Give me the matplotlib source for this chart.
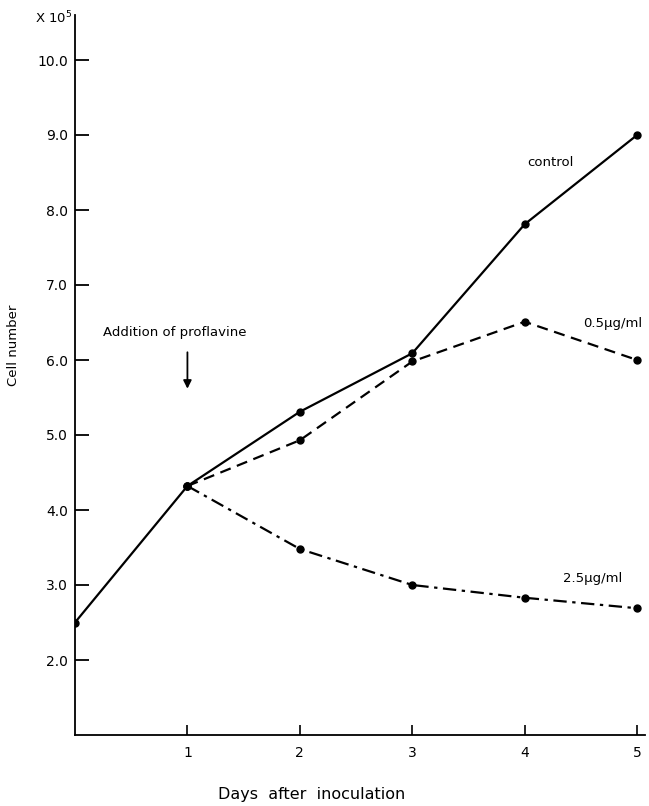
import matplotlib
matplotlib.use("Agg")
import matplotlib.pyplot as plt

days_control = [0, 1, 2, 3, 4, 5]
control = [2.5, 4.32, 5.31, 6.09, 7.81, 9.0]
days_treat = [1, 2, 3, 4, 5]
dose_05 = [4.32, 4.93, 5.98, 6.51, 6.0]
dose_25 = [4.32, 3.48, 3.0, 2.83, 2.69]

yticks = [2, 3, 4, 5, 6, 7, 8, 9, 10]
ytick_labels = ["2.0", "3.0", "4.0", "5.0", "6.0", "7.0", "8.0", "9.0", "10.0"]
xticks = [1, 2, 3, 4, 5]
xtick_labels = ["1", "2", "3", "4", "5"]

plt.rcParams['font.family'] = ['DejaVu Sans']

fig = plt.figure(figsize=(6.49, 8.06), dpi=100)
ax = fig.add_axes([75/649, 71/806, 570/649, 720/806])

ax.plot(days_control, control, color='black', lw=1.6, ls='-',
        marker='o', ms=5)
ax.plot(days_treat, dose_05, color='black', lw=1.6, ls=(0, (5, 3)),
        marker='o', ms=5)
ax.plot(days_treat, dose_25, color='black', lw=1.6, ls=(0, (6, 2.5, 1.5, 2.5)),
        marker='o', ms=5)

ax.set_xlim(0, 5.07)
ax.set_ylim(1.0, 10.6)

for s in ['top', 'right']:
    ax.spines[s].set_visible(False)
for s in ['left', 'bottom']:
    ax.spines[s].set_linewidth(1.3)

ax.set_yticks(yticks)
ax.set_yticklabels(ytick_labels, fontsize=10)
ax.set_xticks(xticks)
ax.set_xticklabels(xtick_labels, fontsize=10)
ax.tick_params(axis='y', direction='in', length=10, width=1.3, pad=5)
ax.tick_params(axis='x', direction='in', length=7, width=1.2, pad=8)

fig.text(35/649, 1 - 18/806, r"X 10$^5$", fontsize=9.5, ha='left', va='center')
fig.text(14/649, 1 - 345/806, "Cell number", fontsize=9.5, rotation=90,
         ha='center', va='center')
fig.text(312/649, 1 - 795/806, "Days  after  inoculation", fontsize=11.5,
         ha='center', va='center')

ax.text(4.02, 8.64, "control", fontsize=9.5, ha='left', va='center')
ax.text(4.52, 6.49, "0.5μg/ml", fontsize=9.5, ha='left', va='center')
ax.text(4.34, 3.09, "2.5μg/ml", fontsize=9.5, ha='left', va='center')
ax.text(0.25, 6.37, "Addition of proflavine", fontsize=9.5, ha='left', va='center')
ax.annotate("", xy=(1.0, 5.58), xytext=(1.0, 6.14),
            arrowprops=dict(arrowstyle='-|>', color='black', lw=1.3,
                            mutation_scale=12))

fig.savefig("out.png", dpi=100)
